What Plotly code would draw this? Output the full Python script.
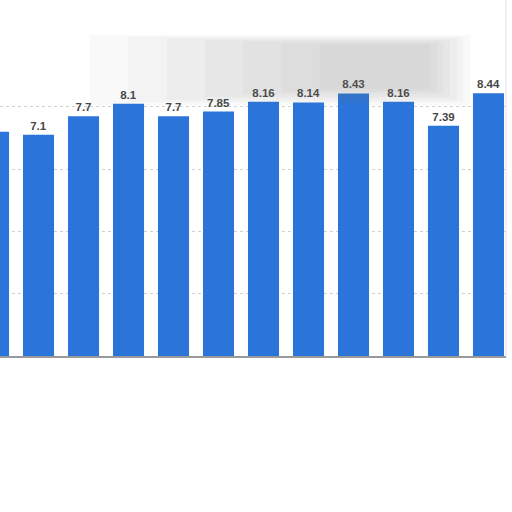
import plotly.graph_objects as go

# bar values read left to right (first bar is cut by the left edge)
positions = list(range(12))
values = [7.2, 7.1, 7.7, 8.1, 7.7, 7.85, 8.16, 8.14, 8.43, 8.16, 7.39, 8.44]
labels = [f"{v:g}" for v in values]
grid_ticks = [0, 2, 4, 6, 8]

fig = go.Figure()
fig.add_trace(
    go.Bar(
        x=positions,
        y=values,
        text=labels,
        textposition="outside",
        cliponaxis=False,
        textfont=dict(family="Liberation Sans, Arial", size=11.5, color="#474747", weight="bold"),
        marker=dict(color="#2a74da", line=dict(width=0)),
    )
)

fig.update_xaxes(
    range=[0.144, 11.389],
    showticklabels=False,
    showgrid=False,
    zeroline=False,
    showline=True,
    linecolor="#9a9a9a",
    linewidth=2,
    ticks="",
)
fig.update_yaxes(
    range=[0, 11.43],
    tickvals=grid_ticks,
    showticklabels=False,
    showgrid=True,
    gridcolor="#cfcfcf",
    griddash="dot",
    gridwidth=1,
    zeroline=False,
)

# soft grey smear over the top of the chart, built from nested faint rectangles
outer = (0.178, 0.929, 0.705, 0.902)
inner = (0.632, 0.850, 0.750, 0.874)
steps = 7
for k in range(steps):
    t = k / (steps - 1)
    box = [o + (i - o) * t for o, i in zip(outer, inner)]
    fig.add_shape(
        type="rect", xref="paper", yref="paper",
        x0=box[0], x1=box[1], y0=box[2], y1=box[3],
        fillcolor="#7a7a7a", opacity=0.045, line=dict(width=0), layer="above",
    )
fig.add_shape(
    type="line", xref="paper", yref="paper", x0=1, x1=1, y0=0, y1=1,
    line=dict(color="#e2e2e2", width=1),
)

fig.update_layout(
    width=512,
    height=512,
    margin=dict(l=0, r=6, t=0, b=156),
    bargap=0.31,
    plot_bgcolor="white",
    paper_bgcolor="white",
    showlegend=False,
)
fig.write_html(
    "out.html",
    config={"displayModeBar": False},
    post_script="document.body.style.margin = '0';",
)
